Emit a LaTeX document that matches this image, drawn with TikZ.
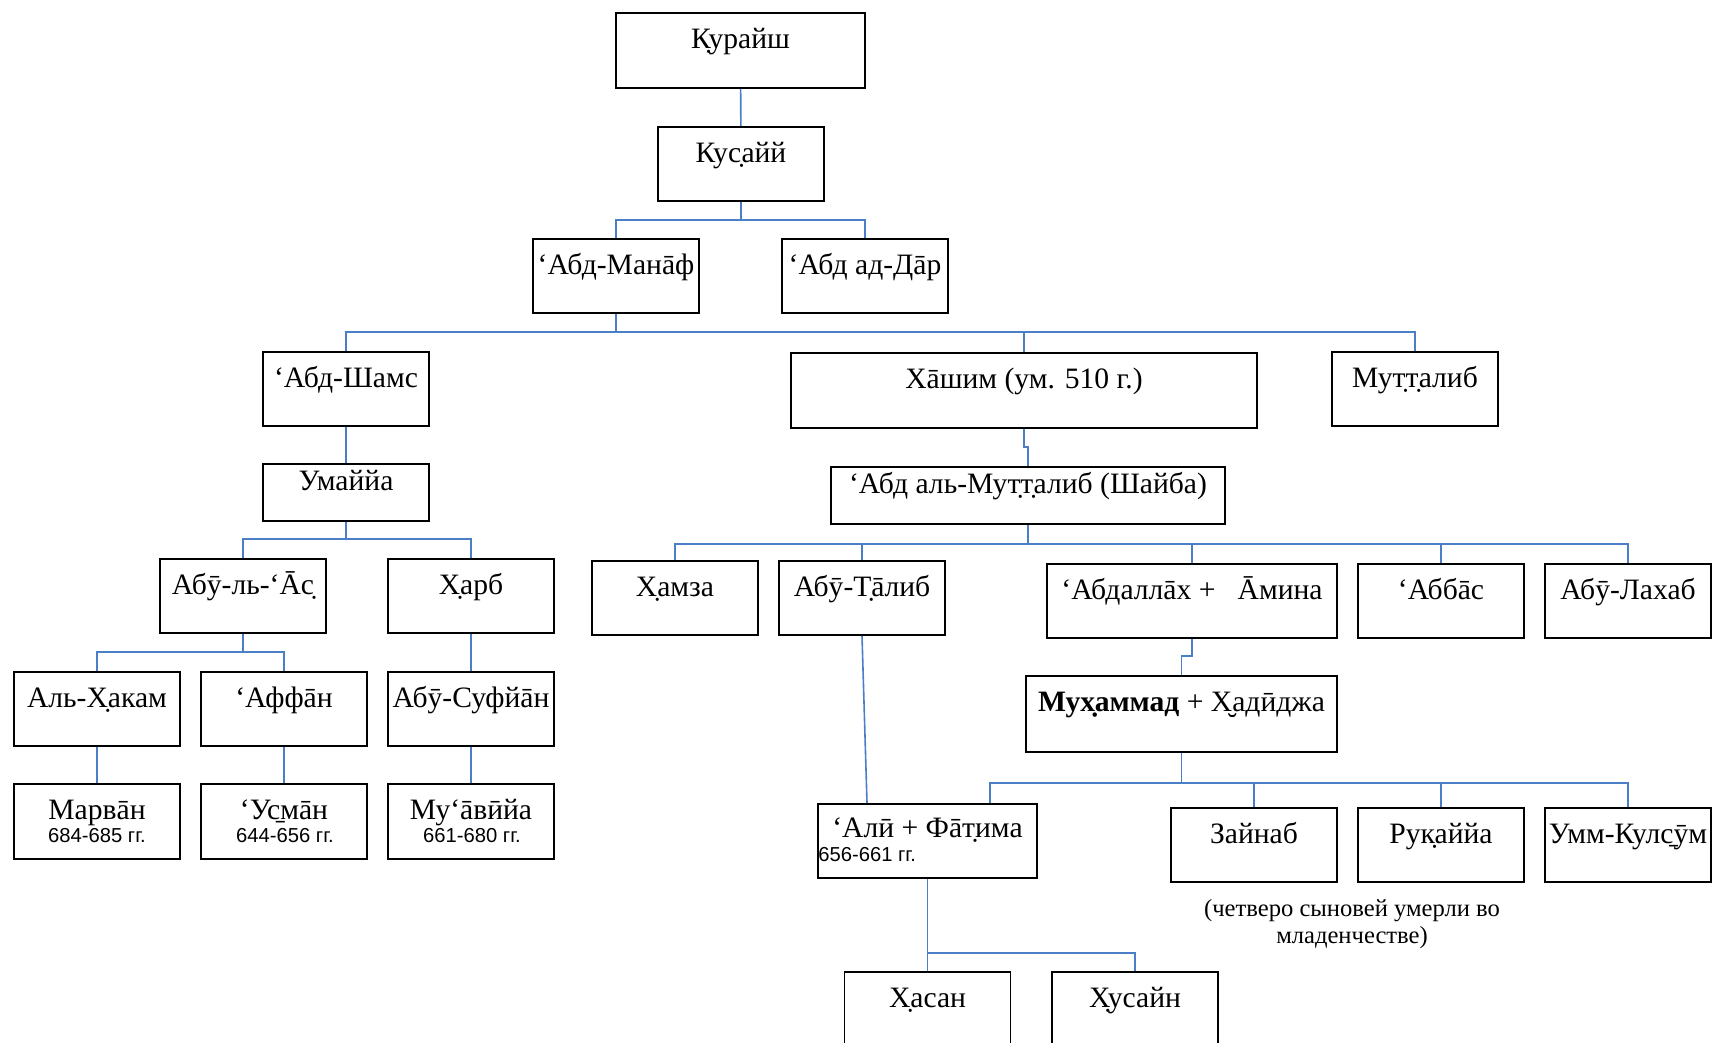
\documentclass[tikz,border=0pt]{standalone}
\usepackage{fontspec}
\setmainfont{Liberation Serif}
\newfontfamily\datefont{Liberation Sans}
\usetikzlibrary{calc}
\definecolor{cLink}{HTML}{4A7EC7}

\begin{document}
\begin{tikzpicture}[
  x=0.5pt, y=-0.5pt,
  font=\fontsize{14.8}{17}\selectfont,
  box/.style={draw, line width=0.9pt, anchor=north, inner xsep=0pt, inner ysep=0pt,
    minimum width=83pt, text height=18pt, text depth=19pt},
  low/.style={box, text height=13.5pt, text depth=15pt},
  date/.style={anchor=base, inner sep=0pt, font=\datefont\fontsize{10.1}{12}\selectfont},
  note/.style={anchor=base, inner sep=0pt, font=\fontsize{12.3}{14}\selectfont},
  link/.style={draw=cLink, line width=0.8pt},
]
\useasboundingbox (0,0) rectangle (1713,1043);
\clip (0,0) rectangle (1713,1043);

% rows 0-2 : Quraysh down to the sons of Qusayy
\node[box, minimum width=124.5pt, text depth=19.5pt] (kuraysh) at (740.5,12) {К̣урайш};
\node[box] (kusayy) at (741,126) {Кус̣айй};
\node[box] (abdmanaf) at (616,238) {‘Абд-Манāф};
\node[box] (abddar) at (865,238) {‘Абд ад-Дāр};

% row 3 and 4
\node[box] (abdshams) at (346,351) {‘Абд-Шамс};
\node[box, minimum width=233pt, text depth=19.5pt] (hashim) at (1024,352) {Хāшим (ум. 510 г.)};
\node[box] (muttalib) at (1415,351) {Мут̣т̣алиб};
\node[low] (umayya) at (346,463) {Умаййа};
\node[low, minimum width=197pt] (abdmuttalib) at (1028,466) {‘Абд аль-Мут̣т̣алиб (Шайба)};

% row 5
\node[box] (abulas) at (243,558) {Абӯ-ль-‘Āс̣};
\node[box] (harb) at (471,558) {Х̣арб};
\node[box] (hamza) at (675,560) {Х̣амза};
\node[box] (abutalib) at (862,560) {Абӯ-Т̣āлиб};
\node[box, minimum width=145pt] (abdallah) at (1192,563) {‘Абдаллāх +\ \ \ Āмина};
\node[box] (abbas) at (1441,563) {‘Аббāс};
\node[box] (abulahab) at (1628,563) {Абӯ-Лахаб};

% row 6
\node[box] (hakam) at (97,671) {Аль-Х̣акам};
\node[box] (affan) at (284,671) {‘Аффāн};
\node[box] (sufyan) at (471,671) {Абӯ-Суфйāн};
\node[box, minimum width=155.5pt, text depth=20pt] (muhammad) at (1181.5,675) {\textbf{Мух̣аммад} + Х̮адӣджа};

% row 7 : caliphs with their years
\node[box, text depth=19.5pt] (marwan) at (97,783) {Марвāн};
\node[box, text depth=19.5pt] (usman) at (284,783) {‘Ус̱мāн};
\node[box, text depth=19.5pt] (muawiya) at (471,783) {Му‘āвӣйа};
\node[date] (marwan-d) at (97,842) {684-685 гг.};
\node[date] (usman-d) at (285,842) {644-656 гг.};
\node[date] (muawiya-d) at (472,842) {661-680 гг.};
\node[box, minimum width=109.5pt, text height=17pt, text depth=20pt] (ali) at (927.5,803) {‘Алӣ + Фāт̣има};
\node[date, anchor=base west] (ali-d) at (818,861) {656-661 гг.};
\node[box] (zaynab) at (1254,807) {Зайнаб};
\node[box] (ruqayya) at (1441,807) {Рук̣аййа};
\node[box] (ummkulsum) at (1628,807) {Умм-Кулс̱ӯм};
\node[note] (sons) at (1352,916) {(четверо сыновей умерли во};
\node[note] (sons2) at (1352,943) {младенчестве)};

% row 8, cut by the page edge
\node[box] (hasan) at (927.5,971) {Х̣асан};
\node[box] (husayn) at (1135,971) {Х̣усайн};

% connectors
\draw[link] (kuraysh) -- (kusayy);
\coordinate (b1) at (741,220);
\draw[link] (kusayy.south) -- (b1);
\draw[link] (abdmanaf.north) |- (b1) -| (abddar.north);

\coordinate (b2) at (616,332);
\draw[link] (abdmanaf.south) -- (b2);
\draw[link] (abdshams.north) |- (b2) -| (muttalib.north);
\draw[link] (hashim.north) -- (hashim.north |- b2);

\draw[link] (abdshams) -- (umayya);
\coordinate (b3) at (346,539);
\draw[link] (umayya.south) -- (b3);
\draw[link] (abulas.north) |- (b3) -| (harb.north);

\coordinate (j1) at (1024,447);
\draw[link] (hashim.south) -- (j1) -| (abdmuttalib.north);
\coordinate (b4) at (1028,544);
\draw[link] (abdmuttalib.south) -- (b4);
\draw[link] (hamza.north) |- (b4) -| (abulahab.north);
\draw[link] (abutalib.north) -- (abutalib.north |- b4);
\draw[link] (abdallah.north) -- (abdallah.north |- b4);
\draw[link] (abbas.north) -- (abbas.north |- b4);

\coordinate (b5) at (243,652);
\draw[link] (abulas.south) -- (b5);
\draw[link] (hakam.north) |- (b5) -| (affan.north);
\draw[link] (harb) -- (sufyan);
\draw[link] (hakam) -- (marwan);
\draw[link] (affan) -- (usman);
\draw[link] (sufyan) -- (muawiya);

\coordinate (j2) at (1192,656);
\draw[link] (abdallah.south) -- (j2) -| (muhammad.north);
\coordinate (b6) at (1181.5,783);
\draw[link] (muhammad.south) -- (b6);
\draw[link] ([xshift=31.25pt]ali.north) |- (b6) -| (ummkulsum.north);
\draw[link] (zaynab.north) -- (zaynab.north |- b6);
\draw[link] (ruqayya.north) -- (ruqayya.north |- b6);
\draw[link] (abutalib.south) -- ([xshift=-30.25pt]ali.north);

\coordinate (b7) at (927.5,953);
\draw[link] (ali.south) -- (b7) -| (husayn.north);
\draw[link] (hasan.north) -- (b7);

\end{tikzpicture}
\end{document}
